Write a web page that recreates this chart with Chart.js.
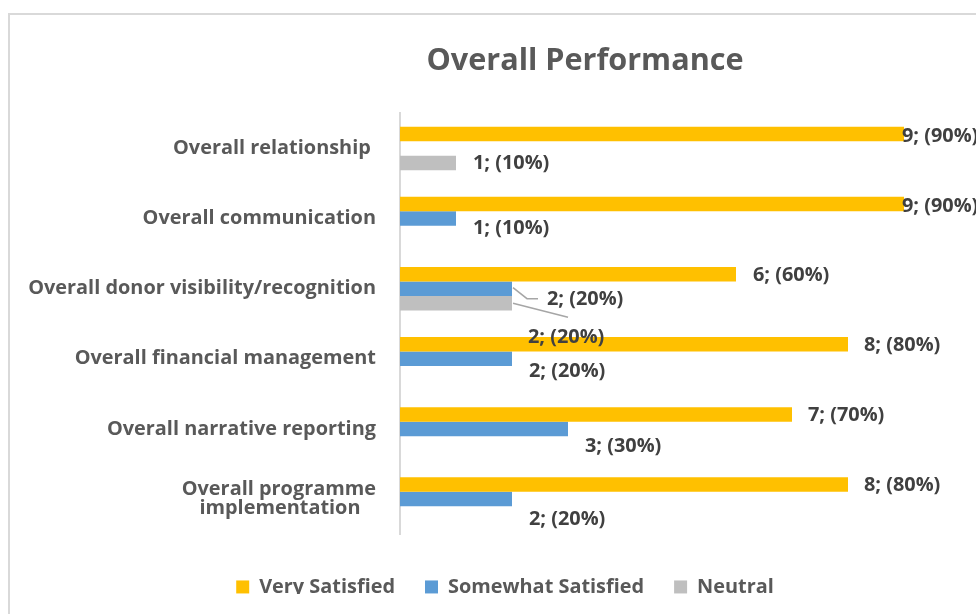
<!DOCTYPE html>
<html><head><meta charset="utf-8">
<script src="https://cdn.jsdelivr.net/npm/chart.js@4.4.1/dist/chart.umd.min.js"></script>
<style>
html,body{margin:0;padding:0;background:#fff;overflow:hidden;width:976px;height:614px;}
#frame{position:absolute;left:8px;top:13px;width:2000px;height:2000px;border-left:2px solid #D9D9D9;border-top:2px solid #D9D9D9;}
#wrap{position:absolute;left:0;top:0;width:976px;height:614px;}
</style></head><body>
<div id="frame"></div>
<div id="wrap"><canvas id="c" width="976" height="614"></canvas></div>
<script>
// ---- data ----
const categories = [
  'Overall relationship ',
  'Overall communication',
  'Overall donor visibility/recognition',
  'Overall financial management',
  'Overall narrative reporting',
  ['Overall programme', 'implementation   ']
];
const seriesNames = ['Very Satisfied', 'Somewhat Satisfied', 'Neutral'];
const verySatisfied     = [9, 9, 6, 8, 7, 8];
const somewhatSatisfied = [null, 1, 2, 2, 3, 2];
const neutral           = [1, null, 2, null, null, null];
const respondents = 10;
const xRange = [0, 10];

// ---- style ----
const colors = ['#FFC000', '#5B9BD5', '#BFBFBF'];
const FONT = "'Open Sans'";
function fitSize(text, targetWidth) {
  const c = document.createElement('canvas').getContext('2d');
  c.font = `bold 100px ${FONT}`;
  return Math.round(1000 * targetWidth / c.measureText(text).width) / 10;
}
const LABEL_SIZE = fitSize('Overall donor visibility/recognition', 348);
const TITLE_SIZE = fitSize('Overall Performance', 317);

// label nudges [dx, dy] from bar end, per series / category
const labelNudge = [
  [[-2, 2], [-2, 2], [17, 1], [16, 1], [16, 1], [16, 1]],
  [null, [17, 10], [35, 11], [17, 13], [17, 17], [17, 20]],
  [[17, 0], null, [16, 34], null, null, null]
];
const leaders = {
  '1,2': [[1, -1], [15, 10], [26, 10]],
  '2,2': [[1, 0], [56, 14]]
};

const dataLabelPlugin = {
  id: 'dataLabels',
  afterDatasetsDraw(chart) {
    const ctx = chart.ctx;
    ctx.save();
    ctx.font = `bold ${LABEL_SIZE}px ${FONT}`;
    ctx.fillStyle = '#404040';
    ctx.textAlign = 'left';
    ctx.textBaseline = 'middle';
    chart.data.datasets.forEach((ds, di) => {
      const meta = chart.getDatasetMeta(di);
      meta.data.forEach((bar, i) => {
        const v = ds.data[i];
        if (v === null || v === undefined) return;
        const nudge = labelNudge[di][i] || [16, 0];
        const txt = `${v}; (${Math.round(v / respondents * 100)}%)`;
        ctx.fillText(txt, bar.x + nudge[0], bar.y + nudge[1]);
        const ld = leaders[di + ',' + i];
        if (ld) {
          ctx.beginPath();
          ctx.strokeStyle = '#A6A6A6';
          ctx.lineWidth = 1.5;
          ld.forEach((p, k) => {
            const px = bar.x + p[0], py = bar.y + p[1];
            if (k === 0) ctx.moveTo(px, py); else ctx.lineTo(px, py);
          });
          ctx.stroke();
        }
      });
    });
    ctx.restore();
  }
};

const placePlugin = {
  id: 'place',
  afterLayout(chart) {
    if (chart.titleBlock) chart.titleBlock.left = 210;
    if (chart.legend) { chart.legend.left = 50; chart.legend.top = 547; }
  }
};

const series = [verySatisfied, somewhatSatisfied, neutral];
new Chart(document.getElementById('c'), {
  type: 'bar',
  data: {
    labels: categories,
    datasets: series.map((d, i) => ({
      label: seriesNames[i],
      data: d,
      backgroundColor: colors[i],
      borderWidth: 0,
      categoryPercentage: 0.62,
      barPercentage: 1
    }))
  },
  options: {
    indexAxis: 'y',
    responsive: false,
    animation: false,
    devicePixelRatio: 1,
    layout: { padding: { left: 0, right: 16, top: 0, bottom: 20 } },
    scales: {
      x: { display: false, min: xRange[0], max: xRange[1] },
      y: {
        grid: { display: false, drawTicks: false },
        border: { display: true, color: '#D9D9D9', width: 2 },
        ticks: { padding: 24, color: '#595959', font: { family: FONT, size: LABEL_SIZE, weight: 'bold', lineHeight: 0.98 } },
        afterFit(s) { s.width = 400; }
      }
    },
    plugins: {
      tooltip: { enabled: false },
      title: {
        display: true,
        text: 'Overall Performance',
        color: '#595959',
        font: { family: FONT, size: TITLE_SIZE, weight: 'bold', lineHeight: 1.2 },
        padding: { top: 43, bottom: 113.4 - 43 - TITLE_SIZE * 1.2 }
      },
      legend: {
        position: 'bottom',
        maxHeight: 60,
        labels: {
          boxWidth: 13, boxHeight: 13, padding: 30,
          color: '#595959',
          font: { family: FONT, size: LABEL_SIZE, weight: 'bold' }
        }
      }
    }
  },
  plugins: [dataLabelPlugin, placePlugin]
});
</script>
</body></html>
